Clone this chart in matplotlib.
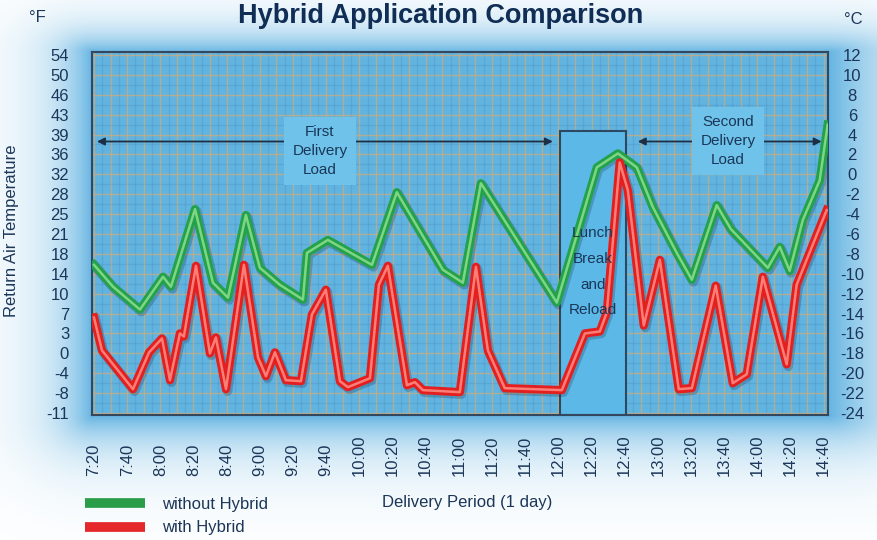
import numpy as np
import matplotlib.pyplot as plt
from matplotlib.lines import Line2D
from matplotlib.patches import Rectangle
from matplotlib import transforms

plt.rcParams['font.family'] = ['Liberation Sans', 'DejaVu Sans']

# time axis: minutes after 7:20, values in deg C (right axis scale)
time_labels = ['7:20', '7:40', '8:00', '8:20', '8:40', '9:00', '9:20', '9:40',
               '10:00', '10:20', '10:40', '11:00', '11:20', '11:40', '12:00',
               '12:20', '12:40', '13:00', '13:20', '13:40', '14:00', '14:20', '14:40']
c_ticks = [12, 10, 8, 6, 4, 2, 0, -2, -4, -6, -8, -10, -12, -14, -16, -18, -20, -22, -24]
f_labels = ['54', '50', '46', '43', '39', '36', '32', '28', '25', '21', '18', '14',
            '10', '7', '3', '0', '-4', '-8', '-11']

green_min = [0, 11.5, 27.7, 41.6, 46.4, 60.9, 71.7, 80.8, 91.6, 100, 112, 126, 128.4,
             141, 167.6, 182.6, 210.4, 222.4, 233.3, 279.1, 303.2, 315.9, 327.3, 337,
             351.4, 360.5, 375.5, 384, 406.3, 413.5, 419.5, 427.4, 437.6, 442.4]
green_c = [-9.1, -11.3, -13.6, -10.3, -11.3, -3.5, -10.9, -12.4, -4.1, -9.4, -11.1,
           -12.6, -7.9, -6.6, -9.1, -1.8, -9.6, -10.9, -0.9, -12.9, 0.7, 2.1, 0.7,
           -3.3, -7.9, -10.6, -3.1, -5.5, -9.4, -7.3, -9.7, -4.6, -0.6, 5.0]

red_min = [0, 4.8, 23.5, 33.2, 41, 45.8, 51.8, 54.2, 61.5, 69.9, 73.5, 79.6, 90.4,
           98.9, 103.7, 109.1, 115.7, 124.8, 131.4, 139.8, 148.3, 153.1, 166.4, 171.8,
           177.2, 188.7, 193.5, 198.3, 220.6, 230.3, 237.5, 247.7, 282.1, 296, 305,
           309.2, 317, 321.9, 331.5, 341.2, 352.6, 360.5, 374.9, 385.2, 393.6, 403.3,
           417.7, 423.7, 441.8]
red_c = [-14.4, -17.7, -21.6, -17.9, -16.5, -20.7, -16.0, -16.3, -9.2, -18.0, -16.4,
         -21.6, -9.1, -18.4, -20.3, -17.9, -20.7, -20.8, -14.1, -11.6, -20.8, -21.4,
         -20.5, -11.1, -9.2, -21.2, -20.9, -21.7, -21.9, -9.3, -17.7, -21.5, -21.7,
         -16.0, -15.8, -13.9, 1.2, -1.6, -15.2, -8.6, -21.6, -21.5, -11.2, -21.0,
         -20.1, -10.3, -19.1, -11.1, -3.6]

lunch_start, lunch_end, lunch_top = 281, 321, 4.4
first_arrow = (1.8, 276.7)
second_arrow = (327.9, 438.8)
arrow_level = 3.3

navy = '#1b3658'
W, H = 877, 540
fig = plt.figure(figsize=(W / 100, H / 100), dpi=100)

# blue glow behind the plot area
bg = fig.add_axes([0, 0, 1, 1], zorder=-10)
yy, xx = np.mgrid[0:H, 0:W]
x0, x1, y0, y1 = 92, 828, 52, 415
dx = np.where(xx < x0, (x0 - xx) / 38.0, np.where(xx > x1, (xx - x1) / 70.0, 0))
dy = np.where(yy < y0, (y0 - yy) / 22.0, np.where(yy > y1, (yy - y1) / 32.0, 0))
t = np.exp(-np.sqrt(dx ** 2 + dy ** 2))
blue = np.array([100, 180, 226]) / 255.0
img = (1 - t[..., None]) * 1.0 + t[..., None] * blue
bg.imshow(img, aspect='auto', extent=[0, W, H, 0])
bg.set_axis_off()

ax = fig.add_axes([92 / W, 1 - 415 / H, 736 / W, 363 / H])
ax.set_facecolor('#62b4e0')
ax.set_xlim(-1.2, 442.6)
ax.set_ylim(-24.2, 12.3)

# plaid grid
for v in np.arange(5, 445, 10):
    ax.axvline(v, color='#4a90c0', lw=1.0, alpha=0.35, zorder=0.5)
for h in np.arange(-25, 13, 2):
    ax.axhline(h, color='#4a90c0', lw=1.0, alpha=0.35, zorder=0.5)
for v in np.arange(0, 445, 10):
    ax.axvline(v, color='#d8aa72', lw=1.0, alpha=0.65, zorder=0.6)
for h in np.arange(-24, 13, 2):
    ax.axhline(h, color='#d8aa72', lw=1.0, alpha=0.65, zorder=0.6)

ax.add_patch(Rectangle((lunch_start, -24.2), lunch_end - lunch_start, lunch_top + 24.2,
                       facecolor='#5cb9e7', edgecolor='#2c4863', lw=1.5, zorder=1))

shadow = transforms.offset_copy(ax.transData, fig=fig, x=1.5, y=-2, units='dots')
for xs, ys, main, light in [(green_min, green_c, '#23a24b', '#8fdf8f'),
                            (red_min, red_c, '#e3201f', '#ff8f86')]:
    ax.plot(xs, ys, color='#143050', lw=7, alpha=0.25, transform=shadow, zorder=2,
            solid_joinstyle='round')
    ax.plot(xs, ys, color=main, lw=6, zorder=3, solid_joinstyle='round')
    ax.plot(xs, ys, color=light, lw=1.8, alpha=0.85, zorder=4, solid_joinstyle='round')

arrow_kw = dict(arrowstyle='<|-|>', color='#1d2f45', lw=1.3, mutation_scale=11,
                shrinkA=0, shrinkB=0)
ax.annotate('', xy=(first_arrow[0], arrow_level), xytext=(first_arrow[1], arrow_level),
            arrowprops=arrow_kw, zorder=5)
ax.annotate('', xy=(second_arrow[0], arrow_level), xytext=(second_arrow[1], arrow_level),
            arrowprops=arrow_kw, zorder=5)
box = dict(boxstyle='square,pad=0.55', fc='#6fc3ea', ec='none')
ax.text(136.2, 2.35, 'First\nDelivery\nLoad', ha='center', va='center', fontsize=11,
        color=navy, linespacing=1.45, bbox=box, zorder=6)
ax.text(382.2, 3.35, 'Second\nDelivery\nLoad', ha='center', va='center', fontsize=11,
        color=navy, linespacing=1.45, bbox=box, zorder=6)
ax.text(300.8, -9.8, 'Lunch\nBreak\nand\nReload', ha='center', va='center', fontsize=11,
        color=navy, linespacing=2.05, zorder=6)

for s in ax.spines.values():
    s.set_color('#33485f')
    s.set_linewidth(1.5)

ax.set_xticks(np.arange(len(time_labels)) * 20)
ax.set_xticklabels(time_labels)
ax.tick_params(axis='x', length=0, pad=44, labelsize=12, labelcolor=navy)
plt.setp(ax.get_xticklabels(), rotation=90, rotation_mode='anchor', ha='left', va='center')

ax.set_yticks(c_ticks)
ax.set_yticklabels(f_labels)
ax.tick_params(axis='y', length=0, pad=16.5, labelsize=12, labelcolor=navy)

ax2 = ax.twinx()
ax2.set_ylim(ax.get_ylim())
ax2.set_yticks(c_ticks)
ax2.set_yticklabels([str(c) for c in c_ticks])
ax2.tick_params(axis='y', length=0, pad=17.5, labelsize=12, labelcolor=navy)
plt.setp(ax2.get_yticklabels(), ha='center')
for s in ax2.spines.values():
    s.set_visible(False)

ax.set_ylabel('Return Air Temperature', fontsize=12, color=navy)
ax.yaxis.set_label_coords(-0.099, 0.507)
ax.set_xlabel('Delivery Period (1 day)', fontsize=12, color=navy)
ax.xaxis.label.set_va('center')
ax.xaxis.set_label_coords(0.5095, -0.24)

fig.text(0.502, 1 - 16 / H, 'Hybrid Application Comparison', ha='center', va='center',
         fontsize=19.5, fontweight='bold', color='#0f2d55')
fig.text(37 / W, 1 - 17 / H, '°F', ha='center', va='center', fontsize=12, color=navy)
fig.text(853 / W, 1 - 19 / H, '°C', ha='center', va='center', fontsize=12, color=navy)

handles = [Line2D([], [], color='#2a9d49', lw=7, solid_capstyle='butt'),
           Line2D([], [], color='#e3272a', lw=7, solid_capstyle='butt')]
fig.legend(handles, ['without Hybrid', 'with Hybrid'], loc='upper left',
           bbox_to_anchor=(85 / W, 1 - 497 / H), frameon=False, fontsize=12,
           handlelength=3.6, handletextpad=1.0, labelspacing=0.5, borderpad=0,
           borderaxespad=0, labelcolor=navy)

fig.savefig('out.png', dpi=100)
